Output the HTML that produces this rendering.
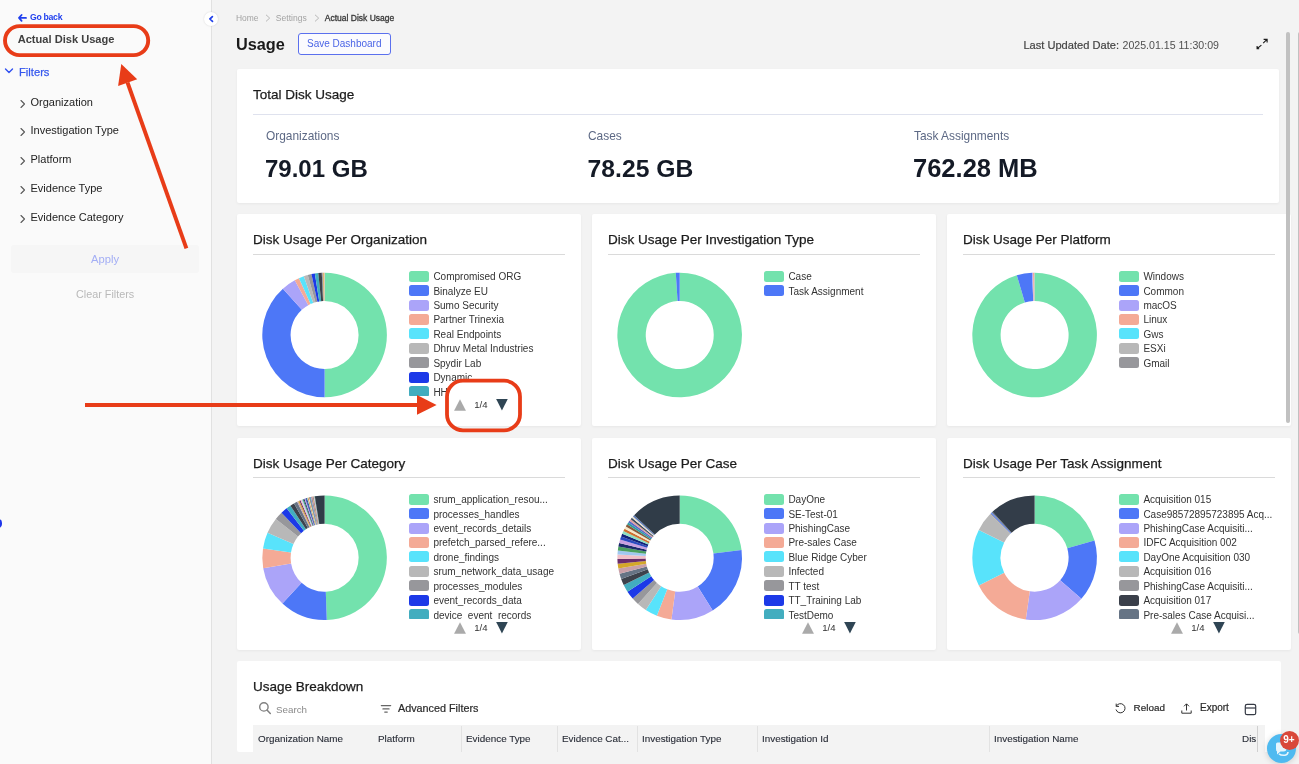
<!DOCTYPE html>
<html lang="en">
<head>
<meta charset="utf-8">
<title>Actual Disk Usage</title>
<style>
*{box-sizing:border-box;margin:0;padding:0}
html,body{width:1299px;height:764px;overflow:hidden;background:#f3f3f3;font-family:"Liberation Sans",sans-serif;color:#1e1e1e}
.abs{position:absolute}
.t{position:absolute;white-space:nowrap;line-height:1}
#side{position:absolute;left:0;top:0;width:212px;height:764px;background:#fafafa;border-right:1px solid #e1e1e1}
.card{position:absolute;background:#fff;border-radius:2px;box-shadow:0 1px 3px rgba(0,0,0,.05)}
.hr{position:absolute;height:1px;background:#dadada}
.lg{position:absolute;white-space:nowrap;font-size:10px;line-height:14px;height:14px;color:#333}
.sw{position:absolute;width:20px;height:11px;border-radius:2.5px}
.ct{font-size:13.5px;color:#1c1c1c;-webkit-text-stroke:.25px #1c1c1c}
.fi{font-size:11px;color:#222;margin-left:-.5px}
.th{font-size:9.9px;color:#2a2e38;top:734px;-webkit-text-stroke:.12px #2a2e38}
</style>
</head>
<body>
<!-- sidebar -->
<div id="side"></div>
<svg class="abs" style="left:17px;top:13px" width="11" height="10" viewBox="0 0 11 10"><path d="M4.6 2L2 4.9L4.6 7.8M2.2 4.9H9" fill="none" stroke="#1f3fee" stroke-width="1.8" stroke-linecap="round" stroke-linejoin="round"/></svg>
<div class="t" style="left:30px;top:13.1px;font-size:8.7px;letter-spacing:-.3px;font-weight:700;color:#1f3fee">Go back</div>
<div class="t" style="left:17.7px;top:33.8px;font-size:11.1px;font-weight:700;color:#404040">Actual Disk Usage</div>
<svg class="abs" style="left:4.3px;top:67.3px" width="10" height="8" viewBox="0 0 10 8"><path d="M1.5 2L5 5.5L8.5 2" fill="none" stroke="#2f4ff0" stroke-width="1.4" stroke-linecap="round" stroke-linejoin="round"/></svg>
<div class="t" style="left:19px;top:67px;font-size:11.2px;color:#3557ee;-webkit-text-stroke:.25px #3557ee">Filters</div>

<svg class="abs" style="left:19px;top:99px" width="8" height="10" viewBox="0 0 8 10"><path d="M2 1.5L5.5 5L2 8.5" fill="none" stroke="#5a5a5a" stroke-width="1.1" stroke-linecap="round" stroke-linejoin="round"/></svg>
<div class="t fi" style="left:31px;top:96.5px">Organization</div>
<svg class="abs" style="left:19px;top:127px" width="8" height="10" viewBox="0 0 8 10"><path d="M2 1.5L5.5 5L2 8.5" fill="none" stroke="#5a5a5a" stroke-width="1.1" stroke-linecap="round" stroke-linejoin="round"/></svg>
<div class="t fi" style="left:31px;top:124.5px">Investigation Type</div>
<svg class="abs" style="left:19px;top:156px" width="8" height="10" viewBox="0 0 8 10"><path d="M2 1.5L5.5 5L2 8.5" fill="none" stroke="#5a5a5a" stroke-width="1.1" stroke-linecap="round" stroke-linejoin="round"/></svg>
<div class="t fi" style="left:31px;top:153.5px">Platform</div>
<svg class="abs" style="left:19px;top:185px" width="8" height="10" viewBox="0 0 8 10"><path d="M2 1.5L5.5 5L2 8.5" fill="none" stroke="#5a5a5a" stroke-width="1.1" stroke-linecap="round" stroke-linejoin="round"/></svg>
<div class="t fi" style="left:31px;top:182.5px">Evidence Type</div>
<svg class="abs" style="left:19px;top:214px" width="8" height="10" viewBox="0 0 8 10"><path d="M2 1.5L5.5 5L2 8.5" fill="none" stroke="#5a5a5a" stroke-width="1.1" stroke-linecap="round" stroke-linejoin="round"/></svg>
<div class="t fi" style="left:31px;top:211.5px">Evidence Category</div>

<div class="abs" style="left:11px;top:245px;width:188px;height:28px;background:#f6f6f6;border-radius:3px"></div>
<div class="t" style="left:91px;top:253.5px;font-size:11.2px;color:#a3aef5">Apply</div>
<div class="t" style="left:76px;top:288.5px;font-size:10.8px;color:#b9b9b9">Clear Filters</div>
<div class="abs" style="left:-6px;top:519.3px;width:8.1px;height:8.4px;border-radius:4.2px;background:#1f36ea"></div>

<!-- collapse button -->
<div class="abs" style="left:204.2px;top:12px;width:14px;height:14px;border-radius:7px;background:#fff;box-shadow:0 0 2px rgba(0,0,0,.15)"></div>
<svg class="abs" style="left:207px;top:14px" width="8" height="10" viewBox="0 0 8 10"><path d="M5.4 2.7L2.9 5L5.5 7.4" fill="none" stroke="#2040ea" stroke-width="1.7" stroke-linecap="round" stroke-linejoin="round"/></svg>

<!-- header -->
<div class="t" style="left:236px;top:14.1px;font-size:8.45px;color:#a3a3a3">Home</div>
<svg class="abs" style="left:265px;top:14px" width="6" height="8" viewBox="0 0 6 8"><path d="M1 .8L4.7 4.1L1 7.4" fill="none" stroke="#b8b8b8" stroke-width="1"/></svg>
<div class="t" style="left:275.8px;top:14.1px;font-size:8.55px;color:#a3a3a3">Settings</div>
<svg class="abs" style="left:314.2px;top:14px" width="6" height="8" viewBox="0 0 6 8"><path d="M1 .8L4.7 4.1L1 7.4" fill="none" stroke="#b8b8b8" stroke-width="1"/></svg>
<div class="t" style="left:324.8px;top:14.4px;font-size:8.5px;color:#383838;-webkit-text-stroke:.3px #383838">Actual Disk Usage</div>

<div class="t" style="left:236px;top:36px;font-size:16.3px;font-weight:700;color:#1a1a1a">Usage</div>
<div class="abs" style="left:298px;top:33px;width:93px;height:22px;border:1px solid #5b70ee;border-radius:3px;background:#fbfbfe"></div>
<div class="t" style="left:307px;top:39px;font-size:10px;color:#4b65e6">Save Dashboard</div>
<div class="t" style="left:1023.4px;top:40px;font-size:11.1px;color:#444;-webkit-text-stroke:.2px #444">Last Updated Date:</div>
<div class="t" style="left:1122.5px;top:39.6px;font-size:10.6px;color:#505050">2025.01.15 11:30:09</div>
<svg class="abs" style="left:1255px;top:37px" width="14" height="13" viewBox="0 0 14 13"><path d="M8.2 6.1L12 2.3M8.6 2.3H12.1V5.6M6.4 8.1L2.2 11.5M2.1 9V11.7H4.2" fill="none" stroke="#1c1c1c" stroke-width="1.15"/></svg>

<!-- total card -->
<div class="card" style="left:237px;top:69px;width:1042px;height:134px"></div>
<div class="t ct" style="left:253px;top:87.5px">Total Disk Usage</div>
<div class="hr" style="left:253px;top:114px;width:1010px;background:#dfe2ee"></div>
<div class="t" style="left:266px;top:131.4px;font-size:11.9px;color:#5d6985">Organizations</div>
<div class="t" style="left:265px;top:156.5px;font-size:24px;font-weight:700;color:#141a26">79.01 GB</div>
<div class="t" style="left:588px;top:131.4px;font-size:11.9px;color:#5d6985">Cases</div>
<div class="t" style="left:587.6px;top:156.5px;font-size:24.7px;font-weight:700;color:#141a26">78.25 GB</div>
<div class="t" style="left:914px;top:131.4px;font-size:11.9px;color:#5d6985">Task Assignments</div>
<div class="t" style="left:913px;top:155.6px;font-size:25.5px;font-weight:700;color:#141a26">762.28 MB</div>

<!-- chart cards -->
<div class="card" style="left:237px;top:214px;width:344px;height:212px"></div>
<div class="card" style="left:592px;top:214px;width:344px;height:212px"></div>
<div class="card" style="left:947px;top:214px;width:344px;height:212px"></div>
<div class="card" style="left:237px;top:438px;width:344px;height:212px"></div>
<div class="card" style="left:592px;top:438px;width:344px;height:212px"></div>
<div class="card" style="left:947px;top:438px;width:344px;height:212px"></div>

<div class="t ct" style="left:253px;top:232.5px">Disk Usage Per Organization</div>
<div class="t ct" style="left:608px;top:232.5px">Disk Usage Per Investigation Type</div>
<div class="t ct" style="left:963px;top:232.5px">Disk Usage Per Platform</div>
<div class="t ct" style="left:253px;top:456.5px">Disk Usage Per Category</div>
<div class="t ct" style="left:608px;top:456.5px">Disk Usage Per Case</div>
<div class="t ct" style="left:963px;top:456.5px">Disk Usage Per Task Assignment</div>
<div class="hr" style="left:253px;top:254px;width:312px"></div>
<div class="hr" style="left:608px;top:254px;width:312px"></div>
<div class="hr" style="left:963px;top:254px;width:312px"></div>
<div class="hr" style="left:253px;top:477px;width:312px"></div>
<div class="hr" style="left:608px;top:477px;width:312px"></div>
<div class="hr" style="left:963px;top:477px;width:312px"></div>

<svg class="abs" style="left:0;top:0" width="1299" height="764" viewBox="0 0 1299 764">
<path d="M324.60 272.70A62.3 62.3 0 0 1 324.60 397.30L324.60 369.00A34 34 0 0 0 324.60 301.00Z" fill="#73e2ad"/>
<path d="M324.60 397.30A62.3 62.3 0 0 1 282.91 288.70L301.85 309.73A34 34 0 0 0 324.60 369.00Z" fill="#4d77f7"/>
<path d="M282.91 288.70A62.3 62.3 0 0 1 294.78 280.30L308.32 305.15A34 34 0 0 0 301.85 309.73Z" fill="#aba4f9"/>
<path d="M294.78 280.30A62.3 62.3 0 0 1 298.96 278.22L310.61 304.01A34 34 0 0 0 308.32 305.15Z" fill="#f4aa96"/>
<path d="M298.96 278.22A62.3 62.3 0 0 1 303.80 276.27L313.25 302.95A34 34 0 0 0 310.61 304.01Z" fill="#58e3fb"/>
<path d="M303.80 276.27A62.3 62.3 0 0 1 307.74 275.02L315.40 302.27A34 34 0 0 0 313.25 302.95Z" fill="#b8b8b8"/>
<path d="M307.74 275.02A62.3 62.3 0 0 1 311.43 274.11L317.41 301.77A34 34 0 0 0 315.40 302.27Z" fill="#97979b"/>
<path d="M311.43 274.11A62.3 62.3 0 0 1 314.85 273.47L319.28 301.42A34 34 0 0 0 317.41 301.77Z" fill="#1c39e8"/>
<path d="M314.85 273.47A62.3 62.3 0 0 1 318.30 273.02L321.16 301.17A34 34 0 0 0 319.28 301.42Z" fill="#42adbf"/>
<path d="M318.30 273.02A62.3 62.3 0 0 1 321.77 272.76L323.06 301.04A34 34 0 0 0 321.16 301.17Z" fill="#3d424c"/>
<path d="M321.77 272.76A62.3 62.3 0 0 1 322.53 272.73L323.47 301.02A34 34 0 0 0 323.06 301.04Z" fill="#667485"/>
<path d="M322.53 272.73A62.3 62.3 0 0 1 323.22 272.72L323.85 301.01A34 34 0 0 0 323.47 301.02Z" fill="#c9a0a8"/>
<path d="M323.22 272.72A62.3 62.3 0 0 1 323.91 272.70L324.22 301.00A34 34 0 0 0 323.85 301.01Z" fill="#d4a82a"/>
<path d="M323.91 272.70A62.3 62.3 0 0 1 324.60 272.70L324.60 301.00A34 34 0 0 0 324.22 301.00Z" fill="#f0b0a8"/>
<path d="M679.70 272.70A62.3 62.3 0 1 1 675.79 272.82L677.57 301.07A34 34 0 1 0 679.70 301.00Z" fill="#73e2ad"/>
<path d="M675.79 272.82A62.3 62.3 0 0 1 679.70 272.70L679.70 301.00A34 34 0 0 0 677.57 301.07Z" fill="#4d77f7"/>
<path d="M1034.60 272.70A62.3 62.3 0 1 1 1016.80 275.30L1024.89 302.42A34 34 0 1 0 1034.60 301.00Z" fill="#73e2ad"/>
<path d="M1016.80 275.30A62.3 62.3 0 0 1 1032.10 272.75L1033.24 301.03A34 34 0 0 0 1024.89 302.42Z" fill="#4d77f7"/>
<path d="M1032.10 272.75A62.3 62.3 0 0 1 1032.97 272.72L1033.71 301.01A34 34 0 0 0 1033.24 301.03Z" fill="#aba4f9"/>
<path d="M1032.97 272.72A62.3 62.3 0 0 1 1034.06 272.70L1034.30 301.00A34 34 0 0 0 1033.71 301.01Z" fill="#f4aa96"/>
<path d="M1034.06 272.70A62.3 62.3 0 0 1 1034.60 272.70L1034.60 301.00A34 34 0 0 0 1034.30 301.00Z" fill="#b8b8b8"/>
<path d="M324.60 495.40A62.3 62.3 0 0 1 326.77 619.96L325.79 591.68A34 34 0 0 0 324.60 523.70Z" fill="#73e2ad"/>
<path d="M326.77 619.96A62.3 62.3 0 0 1 282.43 603.56L301.59 582.73A34 34 0 0 0 325.79 591.68Z" fill="#4d77f7"/>
<path d="M282.43 603.56A62.3 62.3 0 0 1 263.19 568.20L291.09 563.43A34 34 0 0 0 301.59 582.73Z" fill="#aba4f9"/>
<path d="M263.19 568.20A62.3 62.3 0 0 1 263.00 548.38L290.98 552.62A34 34 0 0 0 291.09 563.43Z" fill="#f4aa96"/>
<path d="M263.00 548.38A62.3 62.3 0 0 1 267.51 532.76L293.44 544.09A34 34 0 0 0 290.98 552.62Z" fill="#58e3fb"/>
<path d="M267.51 532.76A62.3 62.3 0 0 1 275.84 518.92L297.99 536.53A34 34 0 0 0 293.44 544.09Z" fill="#b8b8b8"/>
<path d="M275.84 518.92A62.3 62.3 0 0 1 281.48 512.73L301.07 533.16A34 34 0 0 0 297.99 536.53Z" fill="#97979b"/>
<path d="M281.48 512.73A62.3 62.3 0 0 1 286.67 508.27L303.90 530.73A34 34 0 0 0 301.07 533.16Z" fill="#1c39e8"/>
<path d="M286.67 508.27A62.3 62.3 0 0 1 290.40 505.63L305.93 529.28A34 34 0 0 0 303.90 530.73Z" fill="#42adbf"/>
<path d="M290.40 505.63A62.3 62.3 0 0 1 294.02 503.42L307.91 528.08A34 34 0 0 0 305.93 529.28Z" fill="#3d424c"/>
<path d="M294.02 503.42A62.3 62.3 0 0 1 297.09 501.80L309.59 527.19A34 34 0 0 0 307.91 528.08Z" fill="#667485"/>
<path d="M297.09 501.80A62.3 62.3 0 0 1 298.29 501.23L310.24 526.88A34 34 0 0 0 309.59 527.19Z" fill="#c9a0a8"/>
<path d="M298.29 501.23A62.3 62.3 0 0 1 299.43 500.71L310.86 526.60A34 34 0 0 0 310.24 526.88Z" fill="#d4a82a"/>
<path d="M299.43 500.71A62.3 62.3 0 0 1 300.52 500.24L311.46 526.34A34 34 0 0 0 310.86 526.60Z" fill="#6b2d6b"/>
<path d="M300.52 500.24A62.3 62.3 0 0 1 301.57 499.81L312.03 526.11A34 34 0 0 0 311.46 526.34Z" fill="#f0c0c8"/>
<path d="M301.57 499.81A62.3 62.3 0 0 1 302.57 499.42L312.58 525.90A34 34 0 0 0 312.03 526.11Z" fill="#a0c8f0"/>
<path d="M302.57 499.42A62.3 62.3 0 0 1 303.53 499.07L313.10 525.70A34 34 0 0 0 312.58 525.90Z" fill="#4aa060"/>
<path d="M303.53 499.07A62.3 62.3 0 0 1 304.45 498.75L313.60 525.53A34 34 0 0 0 313.10 525.70Z" fill="#1a2a6a"/>
<path d="M304.45 498.75A62.3 62.3 0 0 1 305.32 498.46L314.08 525.37A34 34 0 0 0 313.60 525.53Z" fill="#c8a0e0"/>
<path d="M305.32 498.46A62.3 62.3 0 0 1 306.16 498.19L314.54 525.22A34 34 0 0 0 314.08 525.37Z" fill="#2a4ac0"/>
<path d="M306.16 498.19A62.3 62.3 0 0 1 306.96 497.95L314.97 525.09A34 34 0 0 0 314.54 525.22Z" fill="#12227a"/>
<path d="M306.96 497.95A62.3 62.3 0 0 1 307.72 497.73L315.39 524.97A34 34 0 0 0 314.97 525.09Z" fill="#8fe0c0"/>
<path d="M307.72 497.73A62.3 62.3 0 0 1 308.44 497.53L315.78 524.86A34 34 0 0 0 315.39 524.97Z" fill="#d07030"/>
<path d="M308.44 497.53A62.3 62.3 0 0 1 309.13 497.35L316.16 524.76A34 34 0 0 0 315.78 524.86Z" fill="#f6e8c8"/>
<path d="M309.13 497.35A62.3 62.3 0 0 1 309.79 497.19L316.52 524.67A34 34 0 0 0 316.16 524.76Z" fill="#8a5a3a"/>
<path d="M309.79 497.19A62.3 62.3 0 0 1 310.41 497.04L316.86 524.59A34 34 0 0 0 316.52 524.67Z" fill="#2aa0a0"/>
<path d="M310.41 497.04A62.3 62.3 0 0 1 311.01 496.90L317.18 524.52A34 34 0 0 0 316.86 524.59Z" fill="#5a6ac8"/>
<path d="M311.01 496.90A62.3 62.3 0 0 1 311.58 496.78L317.49 524.45A34 34 0 0 0 317.18 524.52Z" fill="#e0a0a0"/>
<path d="M311.58 496.78A62.3 62.3 0 0 1 312.12 496.66L317.79 524.39A34 34 0 0 0 317.49 524.45Z" fill="#3a4a5a"/>
<path d="M312.12 496.66A62.3 62.3 0 0 1 312.63 496.56L318.07 524.33A34 34 0 0 0 317.79 524.39Z" fill="#c9a0a8"/>
<path d="M312.63 496.56A62.3 62.3 0 0 1 313.12 496.47L318.34 524.28A34 34 0 0 0 318.07 524.33Z" fill="#d4a82a"/>
<path d="M313.12 496.47A62.3 62.3 0 0 1 313.59 496.38L318.59 524.24A34 34 0 0 0 318.34 524.28Z" fill="#6b2d6b"/>
<path d="M313.59 496.38A62.3 62.3 0 0 1 314.03 496.30L318.83 524.19A34 34 0 0 0 318.59 524.24Z" fill="#f0c0c8"/>
<path d="M314.03 496.30A62.3 62.3 0 0 1 314.45 496.23L319.06 524.15A34 34 0 0 0 318.83 524.19Z" fill="#a0c8f0"/>
<path d="M314.45 496.23A62.3 62.3 0 0 1 314.85 496.17L319.28 524.12A34 34 0 0 0 319.06 524.15Z" fill="#4aa060"/>
<path d="M314.85 496.17A62.3 62.3 0 0 1 324.60 495.40L324.60 523.70A34 34 0 0 0 319.28 524.12Z" fill="#303c48"/>
<path d="M679.70 495.40A62.3 62.3 0 0 1 741.54 550.11L713.45 553.56A34 34 0 0 0 679.70 523.70Z" fill="#73e2ad"/>
<path d="M741.54 550.11A62.3 62.3 0 0 1 712.71 610.53L697.72 586.53A34 34 0 0 0 713.45 553.56Z" fill="#4d77f7"/>
<path d="M712.71 610.53A62.3 62.3 0 0 1 671.46 619.45L675.20 591.40A34 34 0 0 0 697.72 586.53Z" fill="#aba4f9"/>
<path d="M671.46 619.45A62.3 62.3 0 0 1 656.87 615.67L667.24 589.33A34 34 0 0 0 675.20 591.40Z" fill="#f4aa96"/>
<path d="M656.87 615.67A62.3 62.3 0 0 1 645.77 609.95L661.18 586.21A34 34 0 0 0 667.24 589.33Z" fill="#58e3fb"/>
<path d="M645.77 609.95A62.3 62.3 0 0 1 638.01 604.00L656.95 582.97A34 34 0 0 0 661.18 586.21Z" fill="#b8b8b8"/>
<path d="M638.01 604.00A62.3 62.3 0 0 1 632.68 598.57L654.04 580.01A34 34 0 0 0 656.95 582.97Z" fill="#97979b"/>
<path d="M632.68 598.57A62.3 62.3 0 0 1 627.45 591.63L651.19 576.22A34 34 0 0 0 654.04 580.01Z" fill="#1c39e8"/>
<path d="M627.45 591.63A62.3 62.3 0 0 1 623.71 585.01L649.14 572.60A34 34 0 0 0 651.19 576.22Z" fill="#42adbf"/>
<path d="M623.71 585.01A62.3 62.3 0 0 1 621.16 579.01L647.75 569.33A34 34 0 0 0 649.14 572.60Z" fill="#3d424c"/>
<path d="M621.16 579.01A62.3 62.3 0 0 1 619.52 573.82L646.86 566.50A34 34 0 0 0 647.75 569.33Z" fill="#667485"/>
<path d="M619.52 573.82A62.3 62.3 0 0 1 618.37 568.62L646.23 563.66A34 34 0 0 0 646.86 566.50Z" fill="#c9a0a8"/>
<path d="M618.37 568.62A62.3 62.3 0 0 1 617.69 563.66L645.86 560.95A34 34 0 0 0 646.23 563.66Z" fill="#d4a82a"/>
<path d="M617.69 563.66A62.3 62.3 0 0 1 617.41 558.96L645.71 558.39A34 34 0 0 0 645.86 560.95Z" fill="#6b2d6b"/>
<path d="M617.41 558.96A62.3 62.3 0 0 1 617.48 554.53L645.74 555.97A34 34 0 0 0 645.71 558.39Z" fill="#f0c0c8"/>
<path d="M617.48 554.53A62.3 62.3 0 0 1 617.83 550.39L645.94 553.71A34 34 0 0 0 645.74 555.97Z" fill="#a0c8f0"/>
<path d="M617.83 550.39A62.3 62.3 0 0 1 618.41 546.52L646.25 551.60A34 34 0 0 0 645.94 553.71Z" fill="#4aa060"/>
<path d="M618.41 546.52A62.3 62.3 0 0 1 619.18 542.92L646.67 549.64A34 34 0 0 0 646.25 551.60Z" fill="#1a2a6a"/>
<path d="M619.18 542.92A62.3 62.3 0 0 1 620.09 539.59L647.17 547.82A34 34 0 0 0 646.67 549.64Z" fill="#c8a0e0"/>
<path d="M620.09 539.59A62.3 62.3 0 0 1 621.12 536.51L647.73 546.13A34 34 0 0 0 647.17 547.82Z" fill="#2a4ac0"/>
<path d="M621.12 536.51A62.3 62.3 0 0 1 622.22 533.66L648.33 544.58A34 34 0 0 0 647.73 546.13Z" fill="#12227a"/>
<path d="M622.22 533.66A62.3 62.3 0 0 1 623.39 531.04L648.97 543.15A34 34 0 0 0 648.33 544.58Z" fill="#8fe0c0"/>
<path d="M623.39 531.04A62.3 62.3 0 0 1 624.60 528.63L649.63 541.83A34 34 0 0 0 648.97 543.15Z" fill="#d07030"/>
<path d="M624.60 528.63A62.3 62.3 0 0 1 625.83 526.41L650.30 540.62A34 34 0 0 0 649.63 541.83Z" fill="#f6e8c8"/>
<path d="M625.83 526.41A62.3 62.3 0 0 1 627.07 524.37L650.98 539.51A34 34 0 0 0 650.30 540.62Z" fill="#8a5a3a"/>
<path d="M627.07 524.37A62.3 62.3 0 0 1 628.30 522.50L651.65 538.49A34 34 0 0 0 650.98 539.51Z" fill="#2aa0a0"/>
<path d="M628.30 522.50A62.3 62.3 0 0 1 629.52 520.78L652.31 537.55A34 34 0 0 0 651.65 538.49Z" fill="#5a6ac8"/>
<path d="M629.52 520.78A62.3 62.3 0 0 1 630.72 519.20L652.97 536.69A34 34 0 0 0 652.31 537.55Z" fill="#e0a0a0"/>
<path d="M630.72 519.20A62.3 62.3 0 0 1 631.89 517.76L653.61 535.90A34 34 0 0 0 652.97 536.69Z" fill="#3a4a5a"/>
<path d="M631.89 517.76A62.3 62.3 0 0 1 633.03 516.43L654.23 535.18A34 34 0 0 0 653.61 535.90Z" fill="#e8e0d0"/>
<path d="M633.03 516.43A62.3 62.3 0 0 1 634.14 515.21L654.83 534.51A34 34 0 0 0 654.23 535.18Z" fill="#5a7ab8"/>
<path d="M634.14 515.21A62.3 62.3 0 0 1 679.70 495.40L679.70 523.70A34 34 0 0 0 654.83 534.51Z" fill="#303c48"/>
<path d="M1034.60 495.40A62.3 62.3 0 0 1 1094.49 540.53L1067.28 548.33A34 34 0 0 0 1034.60 523.70Z" fill="#73e2ad"/>
<path d="M1094.49 540.53A62.3 62.3 0 0 1 1081.40 598.82L1060.14 580.14A34 34 0 0 0 1067.28 548.33Z" fill="#4d77f7"/>
<path d="M1081.40 598.82A62.3 62.3 0 0 1 1025.82 619.38L1029.81 591.36A34 34 0 0 0 1060.14 580.14Z" fill="#aba4f9"/>
<path d="M1025.82 619.38A62.3 62.3 0 0 1 978.80 585.40L1004.15 572.82A34 34 0 0 0 1029.81 591.36Z" fill="#f4aa96"/>
<path d="M978.80 585.40A62.3 62.3 0 0 1 978.80 530.00L1004.15 542.58A34 34 0 0 0 1004.15 572.82Z" fill="#58e3fb"/>
<path d="M978.80 530.00A62.3 62.3 0 0 1 990.16 514.03L1010.35 533.87A34 34 0 0 0 1004.15 542.58Z" fill="#b8b8b8"/>
<path d="M990.16 514.03A62.3 62.3 0 0 1 990.93 513.26L1010.77 533.45A34 34 0 0 0 1010.35 533.87Z" fill="#97979b"/>
<path d="M990.93 513.26A62.3 62.3 0 0 1 991.72 512.51L1011.20 533.04A34 34 0 0 0 1010.77 533.45Z" fill="#4d77f7"/>
<path d="M991.72 512.51A62.3 62.3 0 0 1 992.51 511.77L1011.63 532.63A34 34 0 0 0 1011.20 533.04Z" fill="#667485"/>
<path d="M992.51 511.77A62.3 62.3 0 0 1 1034.60 495.40L1034.60 523.70A34 34 0 0 0 1011.63 532.63Z" fill="#333d49"/>
</svg>
<div class="abs" style="left:0;top:0;width:1299px;height:395.8px;overflow:hidden"><i class="sw" style="left:409px;top:270.80px;background:#73e2ad"></i>
<i class="sw" style="left:409px;top:285.22px;background:#4d77f7"></i>
<i class="sw" style="left:409px;top:299.64px;background:#aba4f9"></i>
<i class="sw" style="left:409px;top:314.06px;background:#f4aa96"></i>
<i class="sw" style="left:409px;top:328.48px;background:#58e3fb"></i>
<i class="sw" style="left:409px;top:342.90px;background:#b8b8b8"></i>
<i class="sw" style="left:409px;top:357.32px;background:#97979b"></i>
<i class="sw" style="left:409px;top:371.74px;background:#1c39e8"></i>
<i class="sw" style="left:409px;top:386.16px;background:#42adbf"></i></div>
<div class="abs" style="left:0;top:0;width:1299px;height:397.0px;overflow:hidden"><div class="lg" style="left:433.4px;top:270.20px">Compromised ORG</div>
<div class="lg" style="left:433.4px;top:284.62px">Binalyze EU</div>
<div class="lg" style="left:433.4px;top:299.04px">Sumo Security</div>
<div class="lg" style="left:433.4px;top:313.46px">Partner Trinexia</div>
<div class="lg" style="left:433.4px;top:327.88px">Real Endpoints</div>
<div class="lg" style="left:433.4px;top:342.30px">Dhruv Metal Industries</div>
<div class="lg" style="left:433.4px;top:356.72px">Spydir Lab</div>
<div class="lg" style="left:433.4px;top:371.14px">Dynamic</div>
<div class="lg" style="left:433.4px;top:385.56px">HH</div></div>
<div class="abs" style="left:0;top:0;width:1299px;height:395.8px;overflow:hidden"><i class="sw" style="left:764px;top:270.80px;background:#73e2ad"></i>
<i class="sw" style="left:764px;top:285.22px;background:#4d77f7"></i></div>
<div class="abs" style="left:0;top:0;width:1299px;height:397.0px;overflow:hidden"><div class="lg" style="left:788.4px;top:270.20px">Case</div>
<div class="lg" style="left:788.4px;top:284.62px">Task Assignment</div></div>
<div class="abs" style="left:0;top:0;width:1299px;height:395.8px;overflow:hidden"><i class="sw" style="left:1119px;top:270.80px;background:#73e2ad"></i>
<i class="sw" style="left:1119px;top:285.22px;background:#4d77f7"></i>
<i class="sw" style="left:1119px;top:299.64px;background:#aba4f9"></i>
<i class="sw" style="left:1119px;top:314.06px;background:#f4aa96"></i>
<i class="sw" style="left:1119px;top:328.48px;background:#58e3fb"></i>
<i class="sw" style="left:1119px;top:342.90px;background:#b8b8b8"></i>
<i class="sw" style="left:1119px;top:357.32px;background:#97979b"></i></div>
<div class="abs" style="left:0;top:0;width:1299px;height:397.0px;overflow:hidden"><div class="lg" style="left:1143.4px;top:270.20px">Windows</div>
<div class="lg" style="left:1143.4px;top:284.62px">Common</div>
<div class="lg" style="left:1143.4px;top:299.04px">macOS</div>
<div class="lg" style="left:1143.4px;top:313.46px">Linux</div>
<div class="lg" style="left:1143.4px;top:327.88px">Gws</div>
<div class="lg" style="left:1143.4px;top:342.30px">ESXi</div>
<div class="lg" style="left:1143.4px;top:356.72px">Gmail</div></div>
<div class="abs" style="left:0;top:0;width:1299px;height:618.9px;overflow:hidden"><i class="sw" style="left:409px;top:493.80px;background:#73e2ad"></i>
<i class="sw" style="left:409px;top:508.22px;background:#4d77f7"></i>
<i class="sw" style="left:409px;top:522.64px;background:#aba4f9"></i>
<i class="sw" style="left:409px;top:537.06px;background:#f4aa96"></i>
<i class="sw" style="left:409px;top:551.48px;background:#58e3fb"></i>
<i class="sw" style="left:409px;top:565.90px;background:#b8b8b8"></i>
<i class="sw" style="left:409px;top:580.32px;background:#97979b"></i>
<i class="sw" style="left:409px;top:594.74px;background:#1c39e8"></i>
<i class="sw" style="left:409px;top:609.16px;background:#42adbf"></i></div>
<div class="abs" style="left:0;top:0;width:1299px;height:620.1px;overflow:hidden"><div class="lg" style="left:433.4px;top:493.20px">srum_application_resou...</div>
<div class="lg" style="left:433.4px;top:507.62px">processes_handles</div>
<div class="lg" style="left:433.4px;top:522.04px">event_records_details</div>
<div class="lg" style="left:433.4px;top:536.46px">prefetch_parsed_refere...</div>
<div class="lg" style="left:433.4px;top:550.88px">drone_findings</div>
<div class="lg" style="left:433.4px;top:565.30px">srum_network_data_usage</div>
<div class="lg" style="left:433.4px;top:579.72px">processes_modules</div>
<div class="lg" style="left:433.4px;top:594.14px">event_records_data</div>
<div class="lg" style="left:433.4px;top:608.56px">device_event_records</div></div>
<div class="abs" style="left:0;top:0;width:1299px;height:618.9px;overflow:hidden"><i class="sw" style="left:764px;top:493.80px;background:#73e2ad"></i>
<i class="sw" style="left:764px;top:508.22px;background:#4d77f7"></i>
<i class="sw" style="left:764px;top:522.64px;background:#aba4f9"></i>
<i class="sw" style="left:764px;top:537.06px;background:#f4aa96"></i>
<i class="sw" style="left:764px;top:551.48px;background:#58e3fb"></i>
<i class="sw" style="left:764px;top:565.90px;background:#b8b8b8"></i>
<i class="sw" style="left:764px;top:580.32px;background:#97979b"></i>
<i class="sw" style="left:764px;top:594.74px;background:#1c39e8"></i>
<i class="sw" style="left:764px;top:609.16px;background:#42adbf"></i></div>
<div class="abs" style="left:0;top:0;width:1299px;height:620.1px;overflow:hidden"><div class="lg" style="left:788.4px;top:493.20px">DayOne</div>
<div class="lg" style="left:788.4px;top:507.62px">SE-Test-01</div>
<div class="lg" style="left:788.4px;top:522.04px">PhishingCase</div>
<div class="lg" style="left:788.4px;top:536.46px">Pre-sales Case</div>
<div class="lg" style="left:788.4px;top:550.88px">Blue Ridge Cyber</div>
<div class="lg" style="left:788.4px;top:565.30px">Infected</div>
<div class="lg" style="left:788.4px;top:579.72px">TT test</div>
<div class="lg" style="left:788.4px;top:594.14px">TT_Training Lab</div>
<div class="lg" style="left:788.4px;top:608.56px">TestDemo</div></div>
<div class="abs" style="left:0;top:0;width:1299px;height:618.9px;overflow:hidden"><i class="sw" style="left:1119px;top:493.80px;background:#73e2ad"></i>
<i class="sw" style="left:1119px;top:508.22px;background:#4d77f7"></i>
<i class="sw" style="left:1119px;top:522.64px;background:#aba4f9"></i>
<i class="sw" style="left:1119px;top:537.06px;background:#f4aa96"></i>
<i class="sw" style="left:1119px;top:551.48px;background:#58e3fb"></i>
<i class="sw" style="left:1119px;top:565.90px;background:#b8b8b8"></i>
<i class="sw" style="left:1119px;top:580.32px;background:#97979b"></i>
<i class="sw" style="left:1119px;top:594.74px;background:#3a3f4a"></i>
<i class="sw" style="left:1119px;top:609.16px;background:#667485"></i></div>
<div class="abs" style="left:0;top:0;width:1299px;height:620.1px;overflow:hidden"><div class="lg" style="left:1143.4px;top:493.20px">Acquisition 015</div>
<div class="lg" style="left:1143.4px;top:507.62px">Case98572895723895 Acq...</div>
<div class="lg" style="left:1143.4px;top:522.04px">PhishingCase Acquisiti...</div>
<div class="lg" style="left:1143.4px;top:536.46px">IDFC Acquisition 002</div>
<div class="lg" style="left:1143.4px;top:550.88px">DayOne Acquisition 030</div>
<div class="lg" style="left:1143.4px;top:565.30px">Acquisition 016</div>
<div class="lg" style="left:1143.4px;top:579.72px">PhishingCase Acquisiti...</div>
<div class="lg" style="left:1143.4px;top:594.14px">Acquisition 017</div>
<div class="lg" style="left:1143.4px;top:608.56px">Pre-sales Case Acquisi...</div></div>
<svg class="abs" style="left:450.35px;top:395px" width="70" height="20" viewBox="0 0 70 20"><path d="M4.05 15.7L10 4.3L15.95 15.7Z" fill="#aaa"/><path d="M46.15 4.1L57.75 4.1L51.95 15.4Z" fill="#2f4554"/><text x="30.95" y="12.75" text-anchor="middle" font-size="9.6" fill="#333" font-family="Liberation Sans, sans-serif">1/4</text></svg>
<svg class="abs" style="left:450.35px;top:618.3px" width="70" height="20" viewBox="0 0 70 20"><path d="M4.05 15.7L10 4.3L15.95 15.7Z" fill="#aaa"/><path d="M46.15 4.1L57.75 4.1L51.95 15.4Z" fill="#2f4554"/><text x="30.95" y="12.75" text-anchor="middle" font-size="9.6" fill="#333" font-family="Liberation Sans, sans-serif">1/4</text></svg>
<svg class="abs" style="left:797.7px;top:618.3px" width="70" height="20" viewBox="0 0 70 20"><path d="M4.05 15.7L10 4.3L15.95 15.7Z" fill="#aaa"/><path d="M46.15 4.1L57.75 4.1L51.95 15.4Z" fill="#2f4554"/><text x="30.95" y="12.75" text-anchor="middle" font-size="9.6" fill="#333" font-family="Liberation Sans, sans-serif">1/4</text></svg>
<svg class="abs" style="left:1167.1px;top:618.3px" width="70" height="20" viewBox="0 0 70 20"><path d="M4.05 15.7L10 4.3L15.95 15.7Z" fill="#aaa"/><path d="M46.15 4.1L57.75 4.1L51.95 15.4Z" fill="#2f4554"/><text x="30.95" y="12.75" text-anchor="middle" font-size="9.6" fill="#333" font-family="Liberation Sans, sans-serif">1/4</text></svg>

<!-- usage breakdown -->
<div class="card" style="left:237px;top:661px;width:1044px;height:91px;box-shadow:none"></div>
<div class="t ct" style="left:253px;top:679.5px">Usage Breakdown</div>
<svg class="abs" style="left:258px;top:701px" width="14" height="14" viewBox="0 0 14 14"><circle cx="5.9" cy="5.9" r="4.2" fill="none" stroke="#808080" stroke-width="1.4"/><path d="M9 9L12.3 12.4" stroke="#808080" stroke-width="1.5" stroke-linecap="round"/></svg>
<div class="t" style="left:276px;top:704.5px;font-size:9.8px;color:#8a8a8a">Search</div>
<svg class="abs" style="left:380px;top:703px" width="12" height="12" viewBox="0 0 12 12"><path d="M1.4 2.6H10.6M3 5.9H9M4.8 9.1H7.2" stroke="#666" stroke-width="1.4" stroke-linecap="round"/></svg>
<div class="t" style="left:398px;top:703px;font-size:10.8px;color:#2a2a2a;-webkit-text-stroke:.2px #2a2a2a">Advanced Filters</div>
<svg class="abs" style="left:1114px;top:702px" width="13" height="13" viewBox="0 0 13 13"><path d="M2.3 4.2A4.6 4.6 0 1 1 2 7.5M2.2 1.6V4.4H5" fill="none" stroke="#333" stroke-width="1"/></svg>
<div class="t" style="left:1133.6px;top:703px;font-size:9.9px;color:#2a2a2a;-webkit-text-stroke:.2px #2a2a2a">Reload</div>
<svg class="abs" style="left:1180px;top:702px" width="13" height="13" viewBox="0 0 13 13"><path d="M6.5 8.5V2M4 4.3L6.5 1.8L9 4.3M1.8 8.5V11.2H11.2V8.5" fill="none" stroke="#333" stroke-width="1"/></svg>
<div class="t" style="left:1200px;top:703px;font-size:10px;color:#2a2a2a;-webkit-text-stroke:.2px #2a2a2a">Export</div>
<svg class="abs" style="left:1244.3px;top:702.5px" width="13" height="13" viewBox="0 0 13 13"><rect x="1.3" y="1.3" width="10.4" height="10.4" rx="1.8" fill="none" stroke="#353a45" stroke-width="1.2"/><path d="M1.3 5H11.7" stroke="#353a45" stroke-width="1.2"/></svg>

<div class="abs" style="left:253px;top:725px;width:1012px;height:27px;background:#f3f3f3"></div>
<div class="abs" style="left:461px;top:726px;width:1px;height:26px;background:#e2e2e2"></div>
<div class="abs" style="left:557px;top:726px;width:1px;height:26px;background:#e2e2e2"></div>
<div class="abs" style="left:637px;top:726px;width:1px;height:26px;background:#e2e2e2"></div>
<div class="abs" style="left:757px;top:726px;width:1px;height:26px;background:#e2e2e2"></div>
<div class="abs" style="left:989px;top:726px;width:1px;height:26px;background:#e2e2e2"></div>
<div class="abs" style="left:1257px;top:726px;width:1px;height:26px;background:#d0d0d0"></div>
<div class="t th" style="left:258px">Organization Name</div>
<div class="t th" style="left:378px">Platform</div>
<div class="t th" style="left:466px">Evidence Type</div>
<div class="t th" style="left:562px">Evidence Cat...</div>
<div class="t th" style="left:642px">Investigation Type</div>
<div class="t th" style="left:762px">Investigation Id</div>
<div class="t th" style="left:994px">Investigation Name</div>
<div class="t th" style="left:1242px">Dis</div>

<!-- scrollbars -->
<div class="abs" style="left:1286px;top:32px;width:4px;height:391px;border-radius:2px;background:#c1c1c1"></div>
<div class="abs" style="left:1298px;top:32px;width:4px;height:602px;border-radius:2px;background:#c1c1c1"></div>

<!-- chat bubble -->
<div class="abs" style="left:1267px;top:733.6px;width:29.2px;height:29.2px;border-radius:15px;background:#4fbaf0;box-shadow:0 1px 6px rgba(0,0,0,.16)"></div>
<svg class="abs" style="left:1272px;top:738px" width="20" height="20" viewBox="0 0 20 20"><path d="M5.5 4.5H11.5Q14.5 4.5 14.5 7.5V10.5Q14.5 13.5 11.5 13.5H8.5L5 16.5V13.5Q4 13 4 11V6Q4 4.5 5.5 4.5Z" fill="#fff" fill-opacity=".85"/><path d="M7 15.8Q9 17.6 13 17.2Q15.8 16.8 16 14" fill="none" stroke="#fff" stroke-opacity=".85" stroke-width="1.6"/></svg>
<div class="abs" style="left:1279.6px;top:730.7px;width:19px;height:19px;border-radius:10px;background:#d9483a"></div>
<div class="t" style="left:1283.3px;top:735px;font-size:10px;font-weight:700;color:#fff">9+</div>

<!-- red annotations -->
<svg class="abs" style="left:0;top:0" width="1299" height="764" viewBox="0 0 1299 764">
<rect x="5" y="26.1" width="143.2" height="29" rx="14.5" fill="none" stroke="#e83c18" stroke-width="3.9"/>
<path d="M186.4 248.4L127.5 82.5" stroke="#e83c18" stroke-width="3.9" fill="none"/>
<path d="M121.3 64L118.1 85.9L137.2 79.2Z" fill="#e83c18"/>
<path d="M85 405H420" stroke="#e83c18" stroke-width="4" fill="none"/>
<path d="M436.6 405L417 395V414.8Z" fill="#e83c18"/>
<rect x="447" y="380.7" width="73" height="49.7" rx="16" fill="none" stroke="#e83c18" stroke-width="3.8"/>
</svg>
</body>
</html>
